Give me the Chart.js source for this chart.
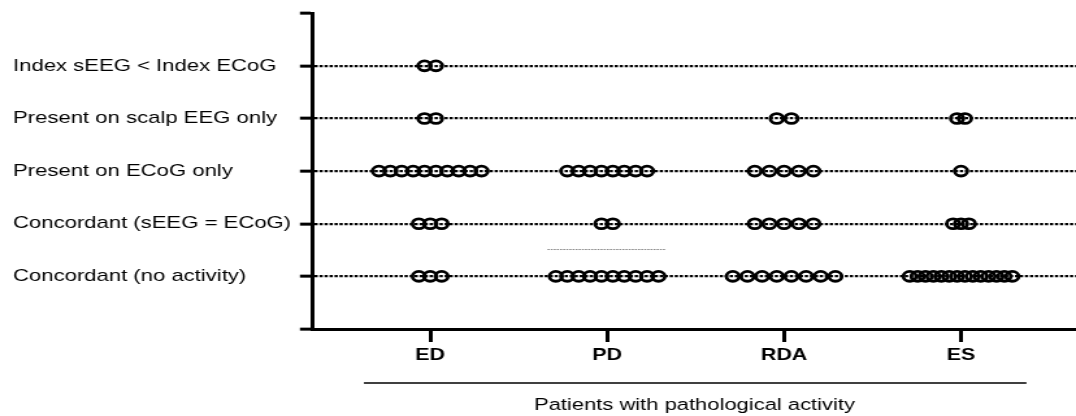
<!DOCTYPE html>
<html>
<head>
<meta charset="utf-8">
<script src="https://cdn.jsdelivr.net/npm/chart.js@4"></script>
<style>
  html, body { margin: 0; padding: 0; background: #fff; overflow: hidden; }
  /* the original figure is stretched sideways, so the chart is drawn narrow and scaled in x */
  #chart { display: block; width: 828px; height: 416px; transform: scaleX(1.2995); transform-origin: 0 0; }
</style>
</head>
<body>
<canvas id="chart" width="828" height="416"></canvas>
<script>
var activity = ['ED', 'PD', 'RDA', 'ES'];
var outcomes = ['Concordant (no activity)', 'Concordant (sEEG = ECoG)', 'Present on ECoG only',
                'Present on scalp EEG only', 'Index sEEG < Index ECoG'];

// patients in each outcome row, bottom row first
var edCounts  = [3, 3, 10, 2, 2];
var pdCounts  = [10, 2, 8, 0, 0];
var rdaCounts = [8, 5, 5, 2, 0];
var esCounts  = [14, 3, 1, 2, 0];

// thin grey dashed line seen above the PD "no activity" row
var pdGuideX = [1.663, 2.333];
var pdGuideY = [1.51, 1.51];

var font = '"Liberation Sans", Arial, Helvetica, sans-serif';
var spread = 0.58; // width of a column of dots, x units

function dots(col, counts) {
  var maxN = Math.max.apply(null, counts);
  var step = spread / (maxN - 1);
  var pts = [];
  counts.forEach(function(n, row) {
    for (var i = 0; i < n; i++) {
      pts.push({ x: col + 1 + (i - (n - 1) / 2) * step, y: row + 1 });
    }
  });
  return pts;
}

function dotSet(col, counts) {
  return {
    label: activity[col],
    data: dots(col, counts),
    pointStyle: 'circle',
    pointRadius: 4.9,
    pointBorderWidth: 2.8,
    pointBorderColor: '#000',
    pointBackgroundColor: 'rgba(0,0,0,0)',
    showLine: false
  };
}

// line under the tick labels, spanning the four groups
var underline = {
  id: 'underline',
  afterDraw: function(chart) {
    var x = chart.scales.x, c = chart.ctx;
    c.save();
    c.strokeStyle = '#000';
    c.lineWidth = 1.5;
    c.beginPath();
    c.moveTo(x.getPixelForValue(0.625), x.top + 54);
    c.lineTo(x.getPixelForValue(4.37), x.top + 54);
    c.stroke();
    c.restore();
  }
};

var ctx = document.getElementById('chart').getContext('2d');
var chart = new Chart(ctx, {
  type: 'scatter',
  data: {
    datasets: [
      dotSet(0, edCounts),
      dotSet(1, pdCounts),
      dotSet(2, rdaCounts),
      dotSet(3, esCounts),
      {
        label: 'guide',
        data: pdGuideX.map(function(x, i) { return { x: x, y: pdGuideY[i] }; }),
        showLine: true,
        borderColor: '#8a8a8a',
        borderWidth: 1,
        borderDash: [1.6, 0.8],
        pointRadius: 0
      }
    ]
  },
  options: {
    responsive: false,
    animation: false,
    events: [],
    layout: { autoPadding: false, padding: { left: 10, top: 13, right: 0, bottom: 0 } },
    plugins: { legend: { display: false }, tooltip: { enabled: false } },
    scales: {
      x: {
        type: 'linear',
        min: 0.337,
        max: 4.65,
        afterBuildTicks: function(s) { s.ticks = [1, 2, 3, 4].map(function(v) { return { value: v }; }); },
        afterFit: function(s) { s.height = 87; },
        border: { display: true, width: 3, color: '#000' },
        grid: { drawOnChartArea: false, tickLength: 13, tickWidth: 3, tickColor: '#000' },
        ticks: {
          autoSkip: false, maxRotation: 0, padding: 4, color: '#000',
          font: { family: font, size: 16.5, weight: 'bold' },
          callback: function(v) { return activity[v - 1]; }
        },
        title: {
          display: true, text: 'Patients with pathological activity', color: '#000',
          font: { family: font, size: 16.9 }, padding: { top: 0, bottom: 1 }
        }
      },
      y: {
        min: 0,
        max: 6,
        afterBuildTicks: function(s) { s.ticks = [0, 1, 2, 3, 4, 5, 6].map(function(v) { return { value: v }; }); },
        afterFit: function(s) { s.width = 230.8; },
        border: { display: true, width: 3, color: '#000', dash: [2.5, 1.35] },
        grid: {
          lineWidth: 2.3,
          color: function(c) { return c.tick && c.tick.value >= 1 && c.tick.value <= 5 ? '#000' : 'rgba(0,0,0,0)'; },
          tickLength: 10, tickWidth: 3, tickColor: '#000', tickBorderDash: []
        },
        ticks: {
          crossAlign: 'far', color: '#000',
          font: { family: font, size: 17 },
          callback: function(v) { return outcomes[v - 1] || ''; }
        }
      }
    }
  },
  plugins: [underline]
});
</script>
</body>
</html>
